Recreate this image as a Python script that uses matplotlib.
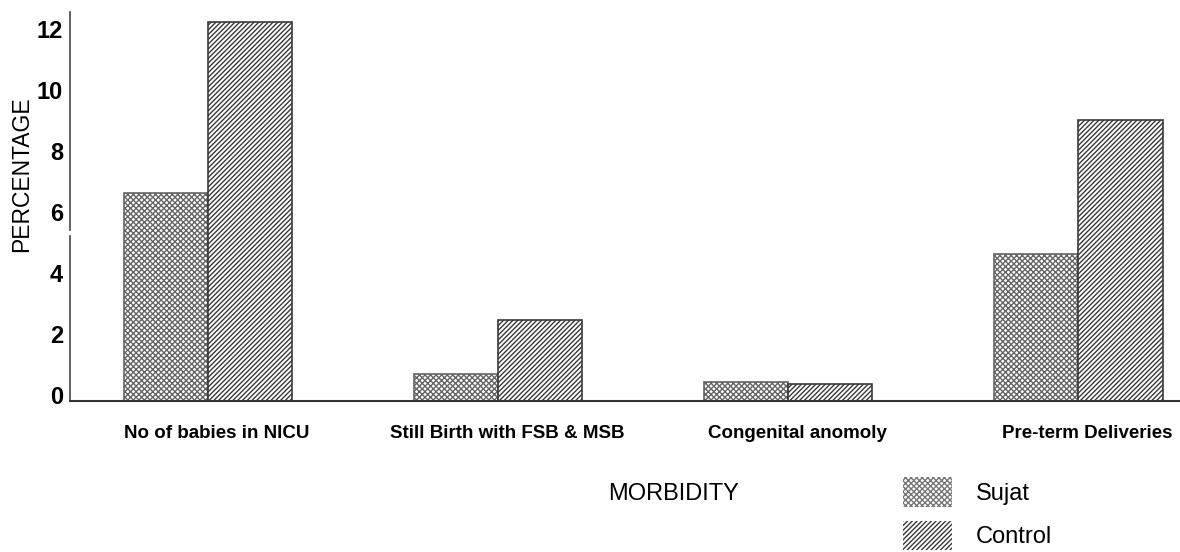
import matplotlib.pyplot as plt
import matplotlib.patches as mpatches
import matplotlib.transforms as mtransforms
import numpy as np

plt.rcParams['font.family'] = ['Liberation Sans', 'DejaVu Sans']
plt.rcParams['hatch.linewidth'] = 1.0

categories = ["No of babies in NICU", "Still Birth with FSB & MSB",
              "Congenital anomoly", "Pre-term Deliveries"]
sujat = [6.8, 0.9, 0.62, 4.8]
control = [12.4, 2.65, 0.55, 9.2]
yticks = [0, 2, 4, 6, 8, 10, 12]

fig = plt.figure(figsize=(11.8, 5.52), dpi=100)
ax = fig.add_axes([0.0593, 0.2736, 0.9407, 0.705])

x = np.arange(len(categories))
w = 0.29
ax.bar(x - w / 2, sujat, w, facecolor='white', edgecolor='#666666',
       hatch='xxxxxx', linewidth=1.2)
ax.bar(x + w / 2, control, w, facecolor='white', edgecolor='#3a3a3a',
       hatch='///////', linewidth=1.2)

ax.set_xlim(-0.476, 3.35)
ax.set_ylim(0, 12.75)

for side in ['top', 'right']:
    ax.spines[side].set_visible(False)
ax.spines['bottom'].set_linewidth(1.5)
ax.spines['bottom'].set_color('#333333')
# y axis drawn with a small break, like the scanned original
ax.spines['left'].set_bounds(5.6, 12.75)
ax.spines['left'].set_linewidth(1.3)
ax.spines['left'].set_color('#555555')
ax.plot([-0.476, -0.476], [0, 5.4], color='#555555', lw=1.3, clip_on=False)

ax.set_yticks(yticks)
ax.set_yticklabels([str(t) for t in yticks], fontsize=17, fontweight='bold')
ax.tick_params(axis='y', length=0, pad=5)
up = mtransforms.ScaledTranslation(0, 6 / 100, fig.dpi_scale_trans)
for lab in ax.get_yticklabels():
    lab.set_transform(lab.get_transform() + up)

ax.set_xticks(x + 0.03)
ax.set_xticklabels(categories, fontsize=13.5, fontweight='bold')
ax.tick_params(axis='x', length=0, pad=17)

fig.text(0.018, 0.685, 'PERCENTAGE', fontsize=16.5, rotation=90,
         ha='center', va='center')
fig.text(0.571, 0.105, 'MORBIDITY', fontsize=17, ha='center', va='center')

handles = [mpatches.Patch(facecolor='white', edgecolor='#777777', hatch='xxxxxx', linewidth=0),
           mpatches.Patch(facecolor='white', edgecolor='#3a3a3a', hatch='///////', linewidth=0)]
fig.legend(handles, ['Sujat', 'Control'], loc='upper left',
           bbox_to_anchor=(0.755, 0.157), frameon=False, fontsize=17,
           borderpad=0, handlelength=2.1, handleheight=1.55, handletextpad=1.0,
           labelspacing=0.6)

fig.savefig('out.png', dpi=100)
